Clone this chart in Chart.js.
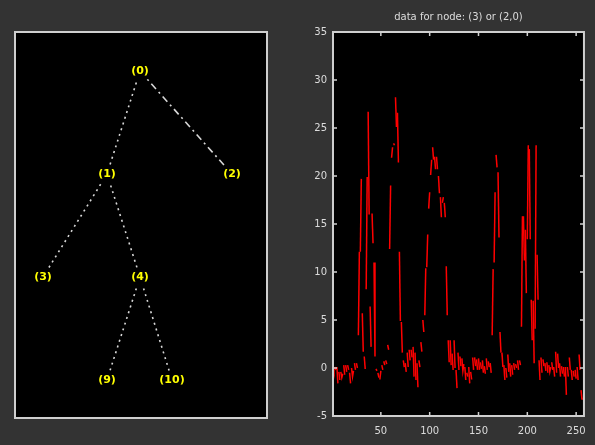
<!DOCTYPE html>
<html><head><meta charset="utf-8">
<script src="https://cdn.jsdelivr.net/npm/chart.js@4/dist/chart.umd.min.js"></script>
<style>
html,body{margin:0;padding:0;background:#333333;width:595px;height:445px;overflow:hidden}
#tree{position:absolute;left:0;top:0}
#sig{position:absolute;left:290px;top:0}
</style></head><body>
<canvas id="tree" width="290" height="445"></canvas>
<canvas id="sig" width="305" height="445"></canvas>
<script>
// ---- Tree (left panel) ----
const nodeLabels = ['(0)','(1)','(2)','(3)','(4)','(9)','(10)'];
const nodeX = [125, 92, 217, 28, 125, 92, 157];
const nodeDepth = [0, 1, 1, 2, 2, 3, 3];
const edges = [[0,1],[0,2],[1,3],[1,4],[4,5],[4,6]];
const edgeStyle = ['dot','dashdot','dot','dot','dot','dot'];

// ---- Node data (right panel) ----
const plotTitle = 'data for node: (3) or (2,0)';
const xTicks = [50, 100, 150, 200, 250];
const yTicks = [-5, 0, 5, 10, 15, 20, 25, 30, 35];
// samples grouped in the short vertical runs visible in the picture
const signalRuns = [
 [0.1,-0.4],[0.1,-0.2],[0.1,-1.6],[-0.4,-1.25],[-0.4,-1.0,-0.6],[0.3,-0.7],[0.3,-0.4],[0.3,-0.2],
 [-0.5,-1.6],[0.0,-0.9,-0.3],[0.5,-0.2],[0.5,0.0],
 [3.4,12.1],[12.1,19.7],[5.7,1.7],[1.2,-0.1],[8.2,19.9],[26.7,16.0],[6.4,2.2],[16.1,13.0],[11.0,1.2],
 [-0.1,-0.3],[-0.5,-1.0],[-1.2,-0.3],[0.3,-0.2],[0.7,0.3],[0.8,0.4],[2.4,1.9],
 [12.4,19.0],[21.9,23.0],[23.4,23.2],[28.2,25.1],[26.6,21.4],[12.1,4.9],[4.8,1.6],
 [0.8,0.1],[0.5,-0.4],[1.6,0.1],[1.9,0.8],[1.9,1.1],[2.2,-0.9],[1.6,-1.25],[0.5,-2.0],[0.8,0.1],
 [2.7,1.7],[5.0,3.75],[5.5,10.4],[10.5,13.9],[16.6,18.3],[20.1,21.7],[23.0,21.7],[22.0,20.7],
 [22.0,20.7],[20.0,18.2],[17.8,15.7],[17.2,17.8],[17.2,15.7],[10.6,5.5],[2.9,0.6],
 [2.9,0.3],[1.5,-0.2],[2.9,0.0],[-0.2,-2.1],[1.6,-0.2],[1.2,0.2],[1.0,-0.3,0.4],
 [0.1,-1.25],[-0.5,-0.9],[0.1,-1.6],[-0.4,-1.2],[1.1,-0.2],[1.1,0.2],[0.9,-0.2],[1.0,-0.2],
 [0.6,-0.1],[0.8,-0.5],[0.2,-0.6],[1.0,-0.2],[0.7,0.1],[0.5,-0.5],
 [3.4,10.3],[11.0,18.3],[22.2,20.9],[20.4,13.6],[3.75,1.6],
 [1.6,0.1],[0.3,-1.25],[0.0,-1.0],[1.4,-0.4],[0.5,-0.9],[0.3,-0.7],[0.5,-0.2],[0.4,0.0],[0.8,-0.2],[0.8,0.3],
 [4.3,15.8],[15.8,11.2],[14.4,7.8],[13.4,23.2],[22.8,13.4],[7.1,2.9],[7.0,0.5],[4.1,23.2],[11.8,7.1],
 [0.8,-1.25],[1.1,-0.5],[0.9,0.2],[0.5,-0.3],[0.6,-0.5],[0.3,-0.4,0.1],[0.6,-0.2],[0.1,-0.9],
 [1.7,-0.5],[1.5,0.0],[0.5,-0.9],[0.2,-0.6],[0.1,-0.9],[0.1,-2.8],[0.1,-0.9],[1.1,-0.2],
 [-0.2,-1.25],[-0.3,-0.9],[-0.2,-1.1],[0.1,-1.25],[1.4,-0.2],[-2.3,-3.3],[-3.3,-3.0]
];

const AXIS_COLOR = '#cfcfcf';
const TEXT_COLOR = '#dcdcdc';
const FONT = 'DejaVu Sans';

// flatten runs; remember where each run ends
const signal = [];
const runEnd = new Set();
signalRuns.forEach(r => { r.forEach(v => signal.push(v)); runEnd.add(signal.length - 1); });

const boxPlugin = {
  id: 'box',
  afterDraw(chart) {
    const a = chart.chartArea, ctx = chart.ctx;
    ctx.save();
    ctx.strokeStyle = AXIS_COLOR;
    ctx.lineWidth = 2;
    ctx.strokeRect(a.left, a.top, a.right - a.left, a.bottom - a.top);
    ctx.restore();
  }
};
const bgPlugin = {
  id: 'bg',
  beforeDraw(chart) {
    const a = chart.chartArea, ctx = chart.ctx;
    ctx.save();
    ctx.fillStyle = '#333333';
    ctx.fillRect(0, 0, chart.width, chart.height);
    ctx.fillStyle = '#000000';
    ctx.fillRect(a.left, a.top, a.right - a.left, a.bottom - a.top);
    ctx.restore();
  }
};
const innerTicks = {
  id: 'innerTicks',
  afterDraw(chart) {
    const a = chart.chartArea, ctx = chart.ctx;
    const xs = chart.scales.x, ys = chart.scales.y;
    ctx.save();
    ctx.strokeStyle = AXIS_COLOR;
    ctx.lineWidth = 1.5;
    ctx.beginPath();
    xTicks.forEach(v => {
      const p = xs.getPixelForValue(v);
      ctx.moveTo(p, a.bottom); ctx.lineTo(p, a.bottom - 4);
      ctx.moveTo(p, a.top); ctx.lineTo(p, a.top + 4);
    });
    yTicks.forEach(v => {
      if (v <= ys.min || v >= ys.max) return;
      const p = ys.getPixelForValue(v);
      ctx.moveTo(a.left, p); ctx.lineTo(a.left + 4, p);
      ctx.moveTo(a.right, p); ctx.lineTo(a.right - 4, p);
    });
    ctx.stroke();
    ctx.restore();
  }
};
const titlePlugin = {
  id: 'ttl',
  afterDraw(chart) {
    const a = chart.chartArea, ctx = chart.ctx;
    ctx.save();
    ctx.fillStyle = TEXT_COLOR;
    ctx.font = '10px "' + FONT + '"';
    ctx.textAlign = 'center';
    ctx.textBaseline = 'middle';
    ctx.fillText(plotTitle, (a.left + a.right) / 2, a.top - 15);
    ctx.restore();
  }
};
const nodeLabelPlugin = {
  id: 'nodeLabels',
  afterDatasetsDraw(chart) {
    const ctx = chart.ctx, xs = chart.scales.x, ys = chart.scales.y;
    ctx.save();
    ctx.font = 'bold 11px "' + FONT + '"';
    ctx.textAlign = 'center';
    ctx.textBaseline = 'middle';
    nodeLabels.forEach((t, i) => {
      const px = xs.getPixelForValue(nodeX[i]);
      const py = ys.getPixelForValue(nodeDepth[i]);
      const w = ctx.measureText(t).width + 4;
      ctx.fillStyle = '#000000';
      ctx.fillRect(px - w / 2, py - 8, w, 16);
      ctx.fillStyle = '#ffff00';
      ctx.fillText(t, px, py);
    });
    ctx.restore();
  }
};

// Tree chart
const treeDatasets = edges.map((e, k) => ({
  type: 'line',
  data: [{x: nodeX[e[0]], y: nodeDepth[e[0]]}, {x: nodeX[e[1]], y: nodeDepth[e[1]]}],
  borderColor: '#d8d8d8',
  borderWidth: 1.6,
  borderDash: edgeStyle[k] === 'dot' ? [2, 4] : [7, 4, 2, 4],
  pointRadius: 0,
  showLine: true,
  fill: false
}));
treeDatasets.push({
  type: 'scatter',
  data: nodeLabels.map((t, i) => ({x: nodeX[i], y: nodeDepth[i]})),
  pointRadius: 0
});

new Chart(document.getElementById('tree'), {
  type: 'scatter',
  data: { datasets: treeDatasets },
  options: {
    responsive: false, animation: false, devicePixelRatio: 1,
    layout: { padding: { left: 15, right: 23, top: 32, bottom: 27 } },
    plugins: { legend: { display: false }, tooltip: { enabled: false } },
    scales: {
      x: { type: 'linear', min: 0, max: 252, display: false },
      y: { type: 'linear', min: -0.38, max: 3.37, reverse: true, display: false }
    }
  },
  plugins: [bgPlugin, boxPlugin, nodeLabelPlugin]
});

// Signal chart
new Chart(document.getElementById('sig'), {
  type: 'line',
  data: { datasets: [{
    data: signal.map((v, i) => ({x: i + 1, y: v})),
    borderColor: '#ff0000',
    borderWidth: 1.5,
    pointRadius: 0,
    tension: 0,
    fill: false,
    segment: { borderColor: c => runEnd.has(c.p0DataIndex) ? 'rgba(0,0,0,0)' : undefined }
  }] },
  options: {
    responsive: false, animation: false, devicePixelRatio: 1,
    layout: { padding: { left: 0, right: 10, top: 32, bottom: 0 } },
    plugins: { legend: { display: false }, tooltip: { enabled: false }, title: { display: false } },
    scales: {
      x: {
        type: 'linear', min: 1, max: 258,
        afterBuildTicks: s => { s.ticks = xTicks.map(v => ({ value: v })); },
        afterFit: s => { s.height = 29; },
        grid: { display: false, drawTicks: false },
        border: { display: false },
        ticks: { color: TEXT_COLOR, font: { size: 10, family: FONT }, padding: 9, maxRotation: 0, autoSkip: false }
      },
      y: {
        type: 'linear', min: -5, max: 35,
        afterBuildTicks: s => { s.ticks = yTicks.map(v => ({ value: v })); },
        afterFit: s => { s.width = 43; },
        grid: { display: false, drawTicks: false },
        border: { display: false },
        ticks: { color: TEXT_COLOR, font: { size: 10, family: FONT }, padding: 6, autoSkip: false }
      }
    }
  },
  plugins: [bgPlugin, boxPlugin, innerTicks, titlePlugin]
});
</script>
</body></html>
